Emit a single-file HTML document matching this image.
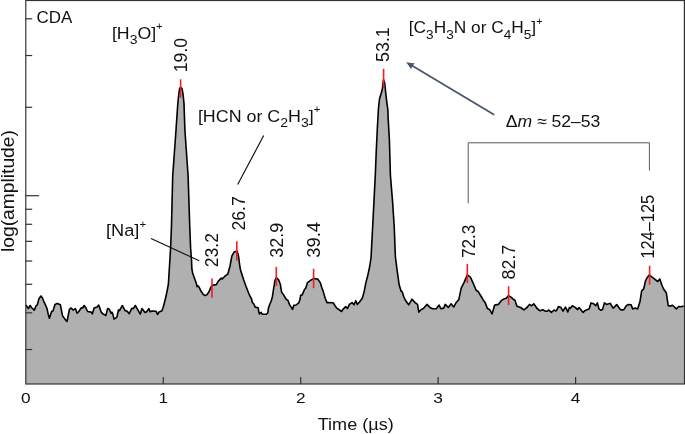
<!DOCTYPE html>
<html><head><meta charset="utf-8"><style>
html,body{margin:0;padding:0;background:#fff;overflow:hidden;width:685px;height:434px;}
svg{display:block;will-change:transform;}
text{font-family:"Liberation Sans",sans-serif;fill:#111;}
</style></head><body>
<svg width="685" height="434" viewBox="0 0 685 434">
<polygon points="25.8,305.1 28.4,308.6 30.1,305.5 31.9,308 34.3,310.1 36.1,305.7 37.3,304.9 38.9,298.9 40.9,296 42.5,298.1 43.4,300.5 45.8,305.7 47,308.5 48.2,314.2 49.4,318.2 51.7,311.3 53,311 55,304.5 57.3,303.4 60.4,304.8 62.5,315.6 64.9,319.1 67,321.5 69.5,309.2 71.3,308 73,310.1 75.4,308.6 77.1,313.3 78.9,311.5 81.2,307.8 82.6,308 84.1,305.5 85.9,308 87.6,311.5 91.2,312.1 92.3,313.9 94.1,308 97,307.1 98.7,305.1 101.2,312.1 102.9,313.9 105.3,315 105.8,315.6 107.6,308.6 109.3,309.2 111.1,313.3 111.9,312.1 112.8,313.9 114,319.1 116.9,317.1 118.5,309.8 119.6,310.6 122.2,305.5 125.1,310.6 126.9,311 129.2,313.6 131.8,308.3 133.3,308.6 135.3,305.5 137.4,309.2 140.3,314.1 142,308.6 145,312.5 146.7,311.8 148.8,308.6 150.2,311.8 152,311 156.1,311.3 157.5,314.5 159,312.1 162,310.8 163.6,306 165.4,298.7 166.6,293.5 167.5,289 168.4,284 169.2,271 170.6,248 171.5,225 172.7,176 175.8,133 177.8,103.6 178.8,94 179.6,88.5 180.7,87.2 182,88.6 183,94 184,103.6 184.9,130 188.1,176 189.7,225 190.6,248 191.5,260 191.9,269.2 192.8,273.8 194.2,277.5 195.6,281.2 196.5,284 197,286.7 197.9,285.8 199.3,287.6 201.1,291.3 203.4,294.6 205.3,295.5 207.1,294.6 209,291.8 210.3,288.6 211.3,286.3 212.6,285.3 214.5,284.9 216.3,284.7 217.3,283 218.2,281.2 220,279.4 221.4,278 222.3,278.9 223.7,277.5 225,276.1 226.3,275.2 227.8,274.2 230,266 231.9,255.8 234.1,252.1 236.5,251.2 237.2,251.1 238.6,256.6 239.5,264 240.4,269.5 241.8,274.1 243.7,280 245.7,285.5 248.5,292.7 250,296.2 251.4,298.5 252.3,302.2 254,304.2 255.2,307.1 258.1,307.7 258.9,312.3 259.5,314 261.2,312.3 262.4,314.3 266.4,314.3 267.8,312.8 268.4,308.2 269.6,304.8 271.3,300.8 272.5,296.2 273.4,290 274.9,280.8 276.2,277.5 278.6,279.9 280.4,284.5 280.8,287.3 281.6,292.1 283.6,294.9 286,299 288.1,300.6 289.3,304.2 290.5,306.2 292.5,309.4 293.7,305.4 296.1,305 299,302.6 300.2,298.5 300.6,295.3 302.2,294.9 304.6,289.3 305.7,288.2 307.5,282.6 311.2,279.9 314,278.6 317.7,279 320.4,282.9 321.7,287.3 323.4,292.1 325.2,298.3 327,302.6 328.3,302.5 333.1,302.8 336.8,308.2 341.6,311.5 342.9,309.4 345.7,306.6 347.5,308.5 349.4,304.4 352.1,302.6 354,304.8 355.8,300.7 357.3,304.4 359.5,302 362.3,298.3 364.1,291.9 365.9,282.6 367.8,275.3 369.6,267 371,258 372.7,226 374,200.6 375.3,175.3 376.3,150 377.3,129 378.5,108 379.5,99 381.5,92.3 382.4,88.8 383.5,79.5 384.7,83 385.9,94.6 387,103.8 387.9,110 388.1,117.6 389.4,140 390.4,175.3 392.5,200.6 394.2,226 395.4,257 397.3,271.6 399.1,284.5 401,291 402.3,291.9 403.7,296.5 405,299.5 407,302.5 408.7,304.8 412,299.2 415.1,302.6 417.5,304.4 418.8,312.1 420.7,309.9 423.4,308.5 427.1,304.4 429.9,307.5 432.6,308.8 436.3,308.8 439.1,305.1 440.9,308.8 443.7,308.1 445.2,304.4 448.3,307.5 451.1,303.8 453.8,307 455.7,303.3 458.8,299.6 461.2,288.2 464,282.6 467.3,274.9 470.4,277.1 472.8,282.3 476,290 478.4,291.9 481.5,297 483.9,301.1 485.2,302.6 487.4,308.5 489.6,309.4 492,314 494.7,305.1 498.4,304.4 501.2,300.7 504,298.9 506.2,298.3 508.6,295.6 511.3,297.4 513.2,299.2 515,300.2 516.9,306.2 520.6,307.5 523.9,309.9 527,307.5 529.4,304.4 531.6,305.7 533.8,303.8 537.1,308.5 540,310.8 542.8,309.8 545.6,311.2 547.3,311.2 548.9,310 551.3,312.4 554.1,310 555.7,311 556.5,310.6 558.4,306.6 561,307.6 563,311.2 565.4,307.2 566.2,308.4 567.8,312 569.4,307.6 570.2,308.4 572.3,305.8 575.5,307.6 577.5,309.6 579.1,307.6 581.1,310 583.1,312.4 585.2,310.4 587.6,309.6 589.2,308.8 591,302.9 593.7,303.8 595.6,305.7 597.4,302.9 598.9,308.8 601.1,310.3 602.6,309.4 604.4,302.9 606.6,304.4 610.3,303.3 613.1,308.1 614,307.5 616.7,304.6 620.5,309.7 622.3,309.9 623.9,309.7 626,306.1 627.9,304.5 631.1,304.8 632.7,308.9 635.2,308.1 637.6,308.9 640,301.6 641.6,291.1 643.7,288.7 645.6,280.6 647.3,277.4 649.2,275 652.1,277.1 655,279.4 657.7,281.5 659.8,279 661.8,284.7 663.4,288.7 666.3,292.7 668.2,305.6 670.6,306.1 672.3,305.2 673.9,306.5 676.3,308.9 678.7,306.5 681.1,306.8 683.8,306.1 683.8,384 25.8,384" fill="#b0b0b0" stroke="none"/>
<polyline points="25.8,305.1 28.4,308.6 30.1,305.5 31.9,308 34.3,310.1 36.1,305.7 37.3,304.9 38.9,298.9 40.9,296 42.5,298.1 43.4,300.5 45.8,305.7 47,308.5 48.2,314.2 49.4,318.2 51.7,311.3 53,311 55,304.5 57.3,303.4 60.4,304.8 62.5,315.6 64.9,319.1 67,321.5 69.5,309.2 71.3,308 73,310.1 75.4,308.6 77.1,313.3 78.9,311.5 81.2,307.8 82.6,308 84.1,305.5 85.9,308 87.6,311.5 91.2,312.1 92.3,313.9 94.1,308 97,307.1 98.7,305.1 101.2,312.1 102.9,313.9 105.3,315 105.8,315.6 107.6,308.6 109.3,309.2 111.1,313.3 111.9,312.1 112.8,313.9 114,319.1 116.9,317.1 118.5,309.8 119.6,310.6 122.2,305.5 125.1,310.6 126.9,311 129.2,313.6 131.8,308.3 133.3,308.6 135.3,305.5 137.4,309.2 140.3,314.1 142,308.6 145,312.5 146.7,311.8 148.8,308.6 150.2,311.8 152,311 156.1,311.3 157.5,314.5 159,312.1 162,310.8 163.6,306 165.4,298.7 166.6,293.5 167.5,289 168.4,284 169.2,271 170.6,248 171.5,225 172.7,176 175.8,133 177.8,103.6 178.8,94 179.6,88.5 180.7,87.2 182,88.6 183,94 184,103.6 184.9,130 188.1,176 189.7,225 190.6,248 191.5,260 191.9,269.2 192.8,273.8 194.2,277.5 195.6,281.2 196.5,284 197,286.7 197.9,285.8 199.3,287.6 201.1,291.3 203.4,294.6 205.3,295.5 207.1,294.6 209,291.8 210.3,288.6 211.3,286.3 212.6,285.3 214.5,284.9 216.3,284.7 217.3,283 218.2,281.2 220,279.4 221.4,278 222.3,278.9 223.7,277.5 225,276.1 226.3,275.2 227.8,274.2 230,266 231.9,255.8 234.1,252.1 236.5,251.2 237.2,251.1 238.6,256.6 239.5,264 240.4,269.5 241.8,274.1 243.7,280 245.7,285.5 248.5,292.7 250,296.2 251.4,298.5 252.3,302.2 254,304.2 255.2,307.1 258.1,307.7 258.9,312.3 259.5,314 261.2,312.3 262.4,314.3 266.4,314.3 267.8,312.8 268.4,308.2 269.6,304.8 271.3,300.8 272.5,296.2 273.4,290 274.9,280.8 276.2,277.5 278.6,279.9 280.4,284.5 280.8,287.3 281.6,292.1 283.6,294.9 286,299 288.1,300.6 289.3,304.2 290.5,306.2 292.5,309.4 293.7,305.4 296.1,305 299,302.6 300.2,298.5 300.6,295.3 302.2,294.9 304.6,289.3 305.7,288.2 307.5,282.6 311.2,279.9 314,278.6 317.7,279 320.4,282.9 321.7,287.3 323.4,292.1 325.2,298.3 327,302.6 328.3,302.5 333.1,302.8 336.8,308.2 341.6,311.5 342.9,309.4 345.7,306.6 347.5,308.5 349.4,304.4 352.1,302.6 354,304.8 355.8,300.7 357.3,304.4 359.5,302 362.3,298.3 364.1,291.9 365.9,282.6 367.8,275.3 369.6,267 371,258 372.7,226 374,200.6 375.3,175.3 376.3,150 377.3,129 378.5,108 379.5,99 381.5,92.3 382.4,88.8 383.5,79.5 384.7,83 385.9,94.6 387,103.8 387.9,110 388.1,117.6 389.4,140 390.4,175.3 392.5,200.6 394.2,226 395.4,257 397.3,271.6 399.1,284.5 401,291 402.3,291.9 403.7,296.5 405,299.5 407,302.5 408.7,304.8 412,299.2 415.1,302.6 417.5,304.4 418.8,312.1 420.7,309.9 423.4,308.5 427.1,304.4 429.9,307.5 432.6,308.8 436.3,308.8 439.1,305.1 440.9,308.8 443.7,308.1 445.2,304.4 448.3,307.5 451.1,303.8 453.8,307 455.7,303.3 458.8,299.6 461.2,288.2 464,282.6 467.3,274.9 470.4,277.1 472.8,282.3 476,290 478.4,291.9 481.5,297 483.9,301.1 485.2,302.6 487.4,308.5 489.6,309.4 492,314 494.7,305.1 498.4,304.4 501.2,300.7 504,298.9 506.2,298.3 508.6,295.6 511.3,297.4 513.2,299.2 515,300.2 516.9,306.2 520.6,307.5 523.9,309.9 527,307.5 529.4,304.4 531.6,305.7 533.8,303.8 537.1,308.5 540,310.8 542.8,309.8 545.6,311.2 547.3,311.2 548.9,310 551.3,312.4 554.1,310 555.7,311 556.5,310.6 558.4,306.6 561,307.6 563,311.2 565.4,307.2 566.2,308.4 567.8,312 569.4,307.6 570.2,308.4 572.3,305.8 575.5,307.6 577.5,309.6 579.1,307.6 581.1,310 583.1,312.4 585.2,310.4 587.6,309.6 589.2,308.8 591,302.9 593.7,303.8 595.6,305.7 597.4,302.9 598.9,308.8 601.1,310.3 602.6,309.4 604.4,302.9 606.6,304.4 610.3,303.3 613.1,308.1 614,307.5 616.7,304.6 620.5,309.7 622.3,309.9 623.9,309.7 626,306.1 627.9,304.5 631.1,304.8 632.7,308.9 635.2,308.1 637.6,308.9 640,301.6 641.6,291.1 643.7,288.7 645.6,280.6 647.3,277.4 649.2,275 652.1,277.1 655,279.4 657.7,281.5 659.8,279 661.8,284.7 663.4,288.7 666.3,292.7 668.2,305.6 670.6,306.1 672.3,305.2 673.9,306.5 676.3,308.9 678.7,306.5 681.1,306.8 683.8,306.1" fill="none" stroke="#000" stroke-width="1.6" stroke-linejoin="round"/>
<g stroke="#f41e1e" stroke-width="1.6"><line x1="180.6" y1="79.3" x2="180.6" y2="97.8"/><line x1="212" y1="278.5" x2="212" y2="297.7"/><line x1="236.8" y1="241.3" x2="236.8" y2="260.4"/><line x1="276.3" y1="266.8" x2="276.3" y2="286"/><line x1="313.6" y1="268.8" x2="313.6" y2="288.2"/><line x1="383.6" y1="68.8" x2="383.6" y2="87.6"/><line x1="467.3" y1="264" x2="467.3" y2="283"/><line x1="508.6" y1="286.2" x2="508.6" y2="305.1"/><line x1="649.6" y1="265.8" x2="649.6" y2="284.7"/></g>
<g stroke="#333" stroke-width="1.2"><line x1="25.8" y1="349.53" x2="32.2" y2="349.53"/><line x1="25.8" y1="312.79" x2="32.2" y2="312.79"/><line x1="25.8" y1="284.3" x2="32.2" y2="284.3"/><line x1="25.8" y1="261.02" x2="32.2" y2="261.02"/><line x1="25.8" y1="241.34" x2="32.2" y2="241.34"/><line x1="25.8" y1="224.29" x2="32.2" y2="224.29"/><line x1="25.8" y1="209.25" x2="32.2" y2="209.25"/><line x1="25.8" y1="107.3" x2="32.2" y2="107.3"/><line x1="25.8" y1="55.53" x2="32.2" y2="55.53"/><line x1="25.8" y1="18.79" x2="32.2" y2="18.79"/><line x1="25.8" y1="195.7" x2="39" y2="195.7"/><line x1="163.25" y1="377" x2="163.25" y2="384"/><line x1="300.7" y1="377" x2="300.7" y2="384"/><line x1="438.15" y1="377" x2="438.15" y2="384"/><line x1="575.6" y1="377" x2="575.6" y2="384"/></g>
<rect x="25.8" y="0.5" width="658.6" height="383.5" fill="none" stroke="#333" stroke-width="1.2"/>
<g stroke="#111" stroke-width="1.15">
<line x1="151" y1="238.4" x2="199.2" y2="260.8"/>
<line x1="263.7" y1="135.6" x2="237.7" y2="184.4"/>
</g>
<polyline points="468.2,203.4 468.2,142.8 649.4,142.8 649.4,170.5" fill="none" stroke="#5a5a5a" stroke-width="1"/>
<g stroke="#46556d" stroke-width="1.7" fill="#46556d">
<line x1="494.2" y1="114.8" x2="411" y2="64.9"/>
<polygon points="406.2,62.3 415.1,63.4 412.3,65.6 411.2,69.2" stroke="none"/>
</g>
<text transform="translate(25.8,402.9) scale(1.15,1)" text-anchor="middle" font-size="15">0</text><text transform="translate(163.25,402.9) scale(1.15,1)" text-anchor="middle" font-size="15">1</text><text transform="translate(300.7,402.9) scale(1.15,1)" text-anchor="middle" font-size="15">2</text><text transform="translate(438.15,402.9) scale(1.15,1)" text-anchor="middle" font-size="15">3</text><text transform="translate(575.6,402.9) scale(1.15,1)" text-anchor="middle" font-size="15">4</text>
<text transform="translate(186.7,72.2) rotate(-90) scale(0.98,1)" font-size="18.0">19.0</text><text transform="translate(218,267.2) rotate(-90) scale(0.976,1)" font-size="18.0">23.2</text><text transform="translate(244.5,230.6) rotate(-90) scale(0.98,1)" font-size="18.0">26.7</text><text transform="translate(283.2,257.7) rotate(-90) scale(1.0,1)" font-size="18.0">32.9</text><text transform="translate(320.3,257.7) rotate(-90) scale(1.02,1)" font-size="18.0">39.4</text><text transform="translate(389.3,61.9) rotate(-90) scale(0.99,1)" font-size="18.0">53.1</text><text transform="translate(475.1,257.9) rotate(-90) scale(0.95,1)" font-size="18.0">72.3</text><text transform="translate(515.1,279.4) rotate(-90) scale(0.99,1)" font-size="18.0">82.7</text><text transform="translate(654.3,258.6) rotate(-90) scale(0.91,1)" font-size="18.0">124–125</text>
<text transform="translate(36.6,22.9) scale(1.03,1)" font-size="16.5">CDA</text>
<text transform="translate(111.9,38.7) scale(1.075,1)" font-size="16.5">[H<tspan font-size="13.0" dy="5.2">3</tspan><tspan dy="-5.2">O]</tspan><tspan font-size="10.5" dy="-8.5">+</tspan></text>
<text transform="translate(197.9,121.5) scale(1.083,1)" font-size="16.5">[HCN or C<tspan font-size="13.0" dy="5.2">2</tspan><tspan dy="-5.2">H</tspan><tspan font-size="13.0" dy="5.2">3</tspan><tspan dy="-5.2">]</tspan><tspan font-size="10.5" dy="-8.5">+</tspan></text>
<text transform="translate(106,236.3) scale(1.105,1)" font-size="16.5">[Na]<tspan font-size="10.5" dy="-8.5">+</tspan></text>
<text transform="translate(408.8,33.4) scale(1.048,1)" font-size="16.5">[C<tspan font-size="13.0" dy="5.2">3</tspan><tspan dy="-5.2">H</tspan><tspan font-size="13.0" dy="5.2">3</tspan><tspan dy="-5.2">N or C</tspan><tspan font-size="13.0" dy="5.2">4</tspan><tspan dy="-5.2">H</tspan><tspan font-size="13.0" dy="5.2">5</tspan><tspan dy="-5.2">]</tspan><tspan font-size="10.5" dy="-8.5">+</tspan></text>
<text transform="translate(505.8,126.5) scale(1.065,1)" font-size="16.5">Δ<tspan font-style="italic">m</tspan> ≈ 52–53</text>
<text transform="translate(317.7,429.5) scale(1.096,1)" font-size="16.5">Time (µs)</text>
<text transform="translate(13.8,252) rotate(-90) scale(1.07,1)" font-size="18">log(amplitude)</text>
</svg>
</body></html>
